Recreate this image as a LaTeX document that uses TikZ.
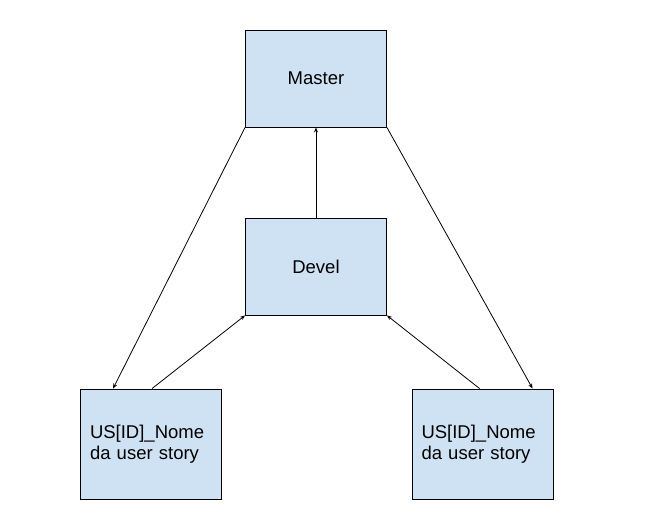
\documentclass[tikz,border=0pt]{standalone}
\usepackage{fontspec}
\setmainfont{Liberation Sans}
\usetikzlibrary{arrows.meta}
\definecolor{boxfill}{HTML}{CFE2F3}
\begin{document}
\begin{tikzpicture}[x=1pt,y=-1pt,
  box/.style={draw=black,line width=0.9pt,fill=boxfill,inner sep=0pt,
    font=\fontsize{18.5}{21}\selectfont},
  branchbox/.style={box,minimum width=141pt,minimum height=97pt,align=center},
  usbox/.style={box,minimum height=110pt,text width=122pt,inner xsep=9.5pt,align=left},
  conn/.style={line width=0.8pt,-{Stealth[length=5pt,width=4pt]}}]
\useasboundingbox[fill=white] (0,0) rectangle (647,526);
\node[branchbox] (master) at (316,78.5) {Master};
\node[branchbox] (devel) at (316,266.5) {Devel};
\node[usbox] (us1) at (151,444) {US[ID]\_Nome\\da user story};
\node[usbox] (us2) at (482.5,444) {US[ID]\_Nome\\da user story};
\draw[conn] (master.south west) -- ([xshift=33pt]us1.north west);
\draw[conn] (master.south east) -- ([xshift=121pt]us2.north west);
\draw[conn] (devel.north) -- (master.south);
\draw[conn] ([xshift=72pt]us1.north west) -- (devel.south west);
\draw[conn] ([xshift=68pt]us2.north west) -- (devel.south east);
\end{tikzpicture}
\end{document}
